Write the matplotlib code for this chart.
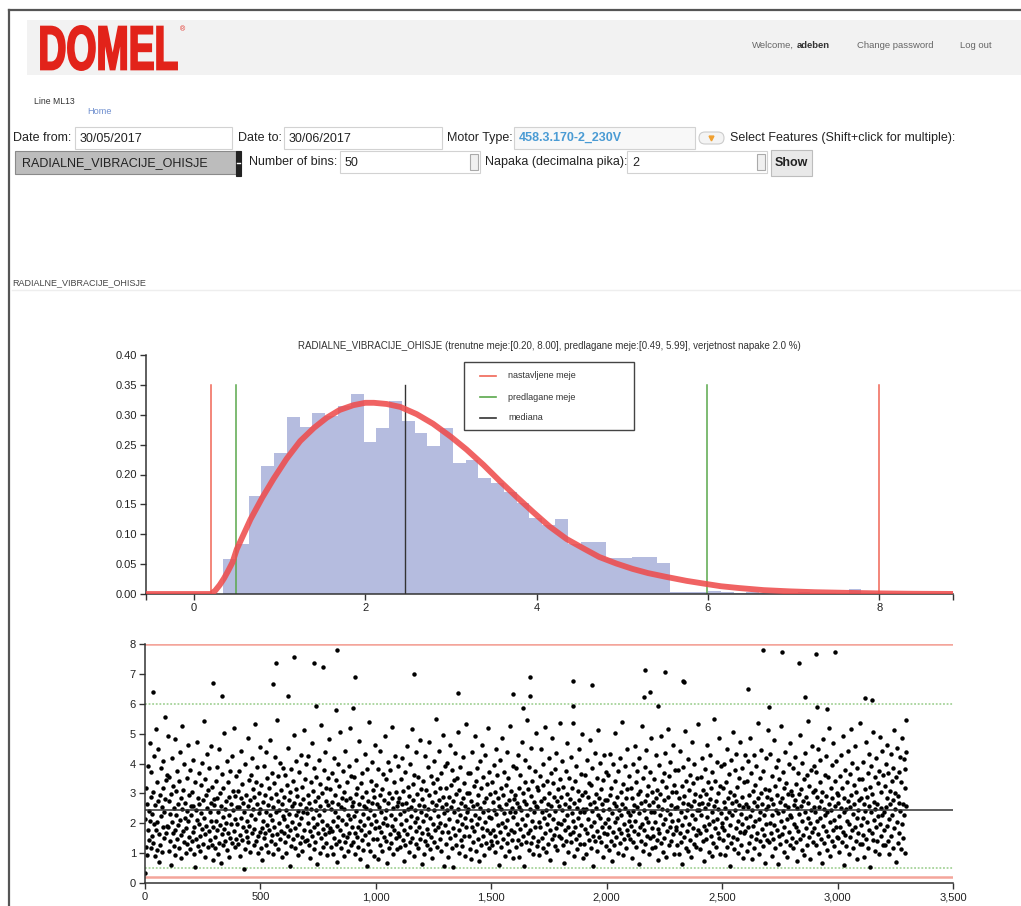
import matplotlib
matplotlib.use('Agg')
import matplotlib.pyplot as plt
import numpy as np
from matplotlib.patches import Rectangle, PathPatch, FancyBboxPatch
from matplotlib.textpath import TextPath
from matplotlib.font_manager import FontProperties
from matplotlib.transforms import Affine2D
from matplotlib.ticker import FuncFormatter

plt.rcParams['font.family'] = ['Liberation Sans', 'DejaVu Sans']

# ---- values ----
feature = 'RADIALNE_VIBRACIJE_OHISJE'
current_limits = [0.20, 8.00]
proposed_limits = [0.49, 5.99]
median_value = 2.46
error_prob = 2.0
date_from = '30/05/2017'
date_to = '30/06/2017'
motor_type = '458.3.170-2_230V'
n_bins = '50'
napaka = '2'

# histogram (density per bin), 50 bins
bin_start = 0.34
bin_width = 0.149
hist_density = [0.058, 0.083, 0.164, 0.214, 0.236, 0.296, 0.279, 0.303, 0.298, 0.315,
                0.334, 0.254, 0.278, 0.323, 0.290, 0.270, 0.247, 0.278, 0.220, 0.224,
                0.194, 0.186, 0.171, 0.152, 0.128, 0.116, 0.125, 0.083, 0.087, 0.087,
                0.061, 0.061, 0.062, 0.062, 0.052, 0.004, 0.003, 0.004, 0.005, 0.003,
                0.002, 0.003, 0.002, 0.002, 0.001, 0.003, 0.002, 0.001, 0.000, 0.009]

# fitted density curve (red)
curve_x = [-0.56, 0.20, 0.25, 0.30, 0.35, 0.40, 0.45, 0.50, 0.58, 0.66, 0.80, 0.93, 1.08,
           1.24, 1.40, 1.55, 1.70, 1.86, 2.00, 2.10, 2.25, 2.41, 2.60, 2.79, 3.00, 3.18,
           3.38, 3.57, 3.77, 3.96, 4.15, 4.35, 4.55, 4.73, 4.93, 5.12, 5.30, 5.50, 5.75,
           5.97, 6.15, 6.36, 6.65, 6.94, 7.25, 7.60, 8.00, 8.40, 8.86]
curve_y = [0.0, 0.0, 0.006, 0.015, 0.026, 0.039, 0.053, 0.075, 0.100, 0.125, 0.162, 0.193,
           0.226, 0.256, 0.278, 0.295, 0.308, 0.316, 0.320, 0.320, 0.318, 0.313, 0.301,
           0.285, 0.263, 0.242, 0.216, 0.189, 0.162, 0.137, 0.113, 0.092, 0.076, 0.062,
           0.051, 0.042, 0.035, 0.029, 0.022, 0.017, 0.013, 0.010, 0.0065, 0.0045, 0.003,
           0.002, 0.001, 0.0004, 0.0001]

# measured values (x100), every second sample of the series
sample_step = 2
vib_values = [
    32, 215, 318, 122, 266, 95, 178, 392, 241, 143, 208, 467, 289, 117, 371, 156, 231, 305, 134, 425, 198, 262, 89, 514, 176, 338, 111, 203, 447, 276, 163, 71, 293, 128, 386, 224, 254, 104, 188, 317, 409, 149, 236, 281, 557, 167, 345, 363, 192, 493,
    187, 274, 108, 356, 231, 142, 298, 61, 203, 419, 167, 326, 125, 251, 482, 179, 93, 307, 228, 374, 146, 263, 195, 118, 341, 212, 437, 159, 285, 84, 247, 526, 174, 312, 137, 398, 219, 269, 101, 183, 352, 241, 131, 461, 206, 294, 153, 378, 115, 258,
    226, 139, 303, 171, 412, 257, 96, 189, 338, 53, 243, 147, 472, 211, 286, 123, 367, 198, 264, 157, 106, 329, 234, 403, 181, 277, 132, 541, 218, 349, 164, 88, 296, 192, 431, 252, 119, 311, 173, 384, 239, 144, 267, 206, 458, 127, 322, 186, 78, 281,
    262, 154, 117, 343, 209, 388, 176, 283, 98, 237, 449, 135, 302, 194, 67, 257, 163, 364, 221, 126, 318, 182, 503, 248, 141, 273, 201, 409, 112, 337, 168, 289, 229, 86, 376, 152, 264, 197, 133, 426, 244, 309, 175, 519, 121, 291, 213, 357, 148, 253,
    196, 307, 129, 253, 374, 162, 91, 284, 219, 441, 144, 331, 186, 268, 47, 237, 113, 397, 174, 296, 208, 153, 486, 259, 136, 346, 192, 277, 104, 363, 227, 418, 169, 314, 247, 126, 287, 181, 532, 215, 142, 339, 264, 389, 157, 99, 302, 233, 171, 455,
    248, 118, 329, 183, 76, 271, 207, 393, 149, 293, 166, 437, 238, 127, 351, 194, 262, 105, 318, 177, 479, 226, 141, 283, 212, 368, 159, 97, 254, 336, 188, 421, 132, 299, 236, 164, 547, 273, 114, 357, 201, 243, 402, 146, 311, 173, 87, 266, 223, 384,
    169, 287, 214, 136, 362, 246, 101, 191, 327, 453, 158, 279, 231, 58, 304, 176, 382, 124, 257, 203, 343, 147, 268, 496, 183, 116, 314, 228, 407, 162, 291, 242, 93, 372, 197, 263, 133, 429, 217, 322, 154, 106, 281, 236, 511, 178, 347, 139, 252, 399,
    233, 143, 296, 201, 426, 128, 267, 174, 83, 338, 249, 157, 467, 219, 309, 113, 386, 186, 274, 137, 243, 356, 196, 64, 288, 167, 412, 226, 102, 333, 257, 149, 529, 209, 301, 181, 121, 377, 244, 163, 438, 276, 134, 318, 193, 94, 262, 352, 172, 482,
    184, 315, 122, 248, 367, 173, 272, 96, 206, 419, 151, 293, 237, 132, 346, 192, 71, 264, 221, 398, 142, 326, 178, 507, 254, 117, 283, 212, 375, 161, 89, 303, 247, 136, 442, 198, 277, 155, 337, 108, 229, 392, 169, 286, 519, 214, 126, 358, 258, 187,
    271, 137, 224, 354, 168, 98, 297, 241, 413, 153, 318, 189, 121, 263, 476, 207, 82, 336, 179, 287, 145, 369, 232, 111, 259, 193, 432, 159, 304, 252, 56, 383, 217, 131, 276, 171, 539, 243, 106, 342, 198, 268, 404, 148, 312, 226, 89, 289, 183, 461,
    209, 329, 146, 263, 82, 381, 187, 253, 128, 296, 443, 172, 236, 107, 314, 201, 364, 154, 278, 491, 219, 139, 347, 243, 66, 193, 406, 267, 118, 301, 163, 379, 228, 134, 284, 191, 522, 252, 97, 337, 176, 424, 214, 149, 306, 259, 113, 393, 167, 271,
    158, 286, 231, 119, 347, 196, 264, 418, 143, 308, 73, 242, 179, 373, 126, 269, 211, 458, 164, 321, 249, 104, 291, 186, 397, 137, 256, 223, 515, 152, 333, 277, 91, 362, 203, 246, 132, 437, 174, 298, 217, 116, 354, 261, 189, 479, 147, 313, 238, 62,
    281, 167, 342, 206, 97, 258, 141, 426, 229, 311, 182, 127, 387, 249, 163, 471, 294, 113, 216, 359, 154, 272, 83, 334, 197, 408, 244, 136, 303, 176, 549, 262, 121, 348, 224, 187, 441, 279, 146, 317, 201, 106, 368, 253, 172, 497, 288, 58, 234, 392,
    194, 263, 132, 318, 243, 401, 171, 87, 289, 214, 462, 149, 327, 256, 118, 378, 183, 274, 53, 236, 346, 161, 436, 297, 128, 207, 353, 248, 506, 176, 101, 312, 227, 389, 143, 268, 197, 124, 421, 283, 156, 336, 219, 91, 257, 532, 188, 301, 239, 367,
    247, 156, 301, 113, 367, 212, 276, 82, 189, 438, 258, 137, 324, 173, 492, 228, 107, 342, 264, 196, 384, 148, 293, 72, 217, 409, 252, 126, 317, 183, 463, 239, 158, 356, 271, 94, 203, 429, 286, 134, 331, 177, 518, 244, 116, 373, 222, 166, 298, 141,
    216, 339, 127, 272, 179, 396, 243, 103, 306, 158, 447, 231, 138, 363, 194, 286, 61, 257, 171, 413, 318, 119, 249, 202, 484, 147, 294, 233, 371, 92, 187, 327, 264, 133, 439, 212, 163, 353, 278, 108, 236, 527, 176, 309, 251, 144, 392, 221, 84, 282,
    172, 296, 238, 121, 384, 197, 267, 143, 427, 253, 88, 319, 182, 361, 129, 246, 472, 214, 302, 156, 58, 276, 337, 193, 411, 138, 263, 226, 544, 167, 314, 109, 387, 247, 178, 292, 135, 453, 209, 343, 153, 98, 271, 236, 376, 189, 503, 257, 124, 322,
    253, 139, 312, 204, 93, 357, 186, 276, 448, 152, 238, 327, 117, 399, 219, 286, 168, 521, 243, 104, 342, 197, 266, 131, 417, 229, 301, 76, 176, 368, 257, 146, 486, 213, 334, 162, 289, 123, 382, 241, 184, 436, 274, 112, 316, 201, 259, 157, 349, 537,
    198, 287, 151, 243, 408, 126, 323, 211, 67, 264, 178, 376, 142, 298, 226, 467, 189, 104, 352, 256, 163, 281, 421, 137, 233, 319, 208, 534, 172, 92, 269, 341, 186, 393, 148, 251, 114, 307, 219, 447, 161, 277, 236, 129, 364, 194, 293, 498, 83, 247,
    237, 129, 306, 181, 362, 248, 97, 413, 167, 289, 215, 144, 334, 263, 479, 192, 118, 327, 242, 386, 158, 57, 271, 204, 436, 139, 298, 252, 174, 353, 108, 229, 511, 283, 153, 402, 218, 313, 137, 264, 188, 87, 344, 246, 427, 166, 279, 201, 124, 373,
    164, 278, 213, 363, 112, 249, 187, 431, 296, 141, 318, 74, 233, 397, 172, 267, 126, 342, 204, 502, 258, 153, 289, 218, 102, 376, 182, 244, 418, 134, 306, 227, 169, 538, 264, 93, 331, 196, 147, 392, 251, 283, 118, 449, 176, 314, 237, 159, 357, 209,
    226, 147, 319, 192, 84, 283, 241, 398, 136, 261, 174, 457, 208, 337, 122, 376, 253, 163, 297, 63, 234, 418, 186, 309, 142, 268, 524, 197, 107, 351, 246, 179, 389, 274, 131, 218, 446, 293, 157, 326, 203, 96, 262, 371, 149, 484, 238, 116, 304, 183,
    271, 158, 236, 347, 119, 203, 429, 286, 144, 312, 181, 78, 259, 394, 167, 298, 227, 491, 133, 342, 249, 196, 103, 367, 277, 152, 436, 214, 321, 88, 243, 173, 517, 289, 126, 358, 231, 189, 404, 262, 139, 303, 207, 461, 164, 96, 328, 252, 378, 178,
    189, 303, 128, 254, 377, 211, 96, 283, 166, 442, 237, 138, 326, 193, 64, 268, 387, 154, 292, 222, 509, 117, 343, 246, 173, 416, 266, 107, 311, 198, 143, 361, 257, 86, 229, 473, 184, 334, 276, 131, 399, 214, 297, 161, 122, 352, 243, 531, 176, 264,
    243, 166, 291, 114, 356, 227, 268, 418, 139, 312, 192, 72, 251, 383, 178, 297, 146, 463, 221, 338, 263, 104, 198, 427, 282, 156, 317, 237, 89, 372, 206, 134, 548, 259, 184, 343, 274, 121, 406, 213, 168, 302, 247, 487, 151, 97, 326, 233, 391, 187,
    202, 318, 143, 271, 398, 176, 251, 94, 337, 218, 121, 449, 286, 162, 364, 236, 57, 303, 194, 413, 134, 267, 228, 507, 153, 294, 113, 377, 246, 183, 432, 273, 147, 322, 209, 101, 352, 262, 171, 471, 232, 128, 289, 196, 384, 84, 256, 339, 168, 427,
    174, 263, 216, 106, 342, 187, 407, 253, 134, 296, 223, 486, 157, 367, 81, 246, 309, 191, 428, 272, 118, 328, 206, 147, 392, 259, 168, 534, 284, 97, 213, 351, 236, 139, 446, 302, 182, 266, 124, 374, 228, 161, 313, 68, 248, 417, 199, 287, 143, 512,
    258, 137, 311, 202, 433, 169, 281, 92, 227, 358, 148, 266, 477, 193, 324, 118, 243, 389, 177, 296, 62, 234, 412, 156, 347, 271, 129, 208, 526, 286, 164, 373, 241, 103, 319, 187, 439, 262, 141, 336, 214, 88, 298, 253, 397, 172, 467, 229, 126, 307,
    221, 294, 152, 384, 117, 262, 198, 421, 279, 136, 333, 187, 74, 251, 368, 173, 297, 232, 496, 146, 314, 257, 109, 403, 206, 276, 161, 347, 93, 239, 436, 183, 289, 127, 362, 218, 541, 268, 154, 326, 201, 82, 379, 246, 171, 458, 304, 138, 253, 392,
    183, 312, 239, 128, 371, 206, 287, 448, 163, 254, 99, 339, 217, 412, 146, 276, 67, 303, 192, 482, 248, 133, 361, 227, 174, 426, 291, 112, 237, 354, 158, 519, 266, 203, 89, 317, 246, 394, 141, 283, 176, 468, 212, 123, 343, 259, 186, 407, 301, 154,
    267, 149, 296, 223, 104, 358, 186, 429, 252, 137, 318, 172, 491, 238, 61, 284, 379, 161, 247, 123, 337, 208, 443, 274, 97, 199, 366, 256, 153, 514, 293, 178, 401, 231, 116, 329, 264, 189, 457, 142, 306, 217, 82, 384, 243, 169, 347, 279, 132, 536,
    194, 283, 131, 347, 219, 406, 162, 264, 87, 313, 241, 472, 146, 288, 203, 369, 118, 257, 178, 431, 321, 54, 236, 392, 168, 297, 504, 143, 271, 212, 356, 107, 249, 186, 418, 263, 139, 334, 224, 96, 376, 198, 489, 252, 157, 306, 227, 441, 126, 361,
    237, 176, 324, 128, 397, 253, 191, 462, 286, 142, 367, 214, 98, 308, 264, 432, 158, 343, 226, 117, 386, 279, 512, 183, 301, 247, 71, 356, 204, 452, 134, 292, 373, 168, 268, 421, 241, 113, 338, 197, 487, 263, 152, 414, 229, 318, 102, 381, 257, 437,
]

# isolated high readings (sample index, value)
outlier_idx = [36, 296, 332, 553, 566, 621, 647, 734, 741, 773, 833, 826, 911, 903, 1167,
               1355, 1596, 1668, 1669, 1636, 1852, 1853, 1938, 2166, 2162, 2188, 2254, 2330,
               2336, 2223, 2610, 2679, 2702, 2759, 2834, 2857, 2907, 2990, 2913, 2954, 3120,
               3150, 3296]
outlier_val = [6.40, 6.71, 6.25, 6.65, 7.35, 6.25, 7.55, 7.37, 5.94, 7.23, 7.79, 5.80, 6.90,
               5.86, 6.99, 6.37, 6.32, 6.88, 6.25, 5.87, 6.75, 5.92, 6.62, 7.12, 6.23, 6.40,
               7.07, 6.77, 6.72, 5.93, 6.48, 7.79, 5.90, 7.74, 7.37, 6.21, 7.66, 7.74, 5.88,
               5.81, 6.18, 6.12, 5.45]

RED = '#f06656'
RED_LIGHT = '#f4a59b'
GREEN = '#5aa84c'
GREEN_LIGHT = '#a6d39a'
DARK = '#333333'

W, H = 1021, 906
fig = plt.figure(figsize=(W / 100, H / 100), dpi=100)
fig.patch.set_facecolor('white')

# page chrome in pixel coordinates (y down)
bg = fig.add_axes([0, 0, 1, 1])
bg.set_xlim(0, W)
bg.set_ylim(H, 0)
bg.axis('off')


def box(x0, y0, x1, y1, fc='white', ec='#d2d2d2', lw=0.8, z=1):
    bg.add_patch(Rectangle((x0, y0), x1 - x0, y1 - y0, fc=fc, ec=ec, lw=lw, zorder=z))


def txt(x, y, s, size=9, color='#222222', weight='normal', ha='left'):
    bg.text(x, y, s, fontsize=size, color=color, fontweight=weight, ha=ha, va='center', zorder=5)


bg.plot([9, 9], [10, H], color='#555555', lw=1.6)
bg.plot([9, W], [10, 10], color='#555555', lw=1.6)
box(27, 20, W, 75, fc='#f2f2f2', ec='none')

# logo
tp = TextPath((0, 0), 'DOMEL', size=50, prop=FontProperties(family='Liberation Sans', weight='bold'))
ext = tp.get_extents()
tr = Affine2D().translate(-ext.x0, -ext.y0).scale(136 / ext.width, -44 / ext.height).translate(41, 70)
bg.add_patch(PathPatch(tr.transform_path(tp), fc='#e2231a', ec='#e2231a', lw=1.4, zorder=3))
txt(180, 30, '®', size=5, color='#e2231a')

txt(752, 45, 'Welcome,', size=6.8, color='#666666')
txt(797, 45, 'adeben', size=6.8, color='#333333', weight='bold')
txt(857, 45, 'Change password', size=6.8, color='#666666')
txt(960, 45, 'Log out', size=6.8, color='#666666')
txt(34, 101, 'Line ML13', size=6.2, color='#333333')
txt(87, 111, 'Home', size=6.6, color='#6f8fcf')

# form row 1
txt(13, 138, 'Date from:')
box(75, 127, 232, 149)
txt(80, 139, date_from)
txt(238, 138, 'Date to:')
box(284, 127, 442, 149)
txt(289, 139, date_to)
txt(447, 138, 'Motor Type:')
box(514, 127, 695, 149, fc='#f8f8f8')
txt(519, 138, motor_type, color='#4a9bd4', weight='bold')
bg.add_patch(FancyBboxPatch((699, 132), 25, 12, boxstyle='round,pad=0,rounding_size=6',
                            fc='#f4f4f4', ec='#cccccc', lw=0.8, zorder=2))
bg.plot([711], [137.5], marker='v', ms=3.5, color='#f0a030', zorder=4)
txt(730, 138, 'Select Features (Shift+click for multiple):')

# form row 2
box(15, 151, 236, 174, fc='#bcbcbc', ec='#8a8a8a')
txt(22, 163, feature)
box(236, 151, 241, 176, fc='#222222', ec='#222222')
bg.plot([237, 240], [163, 163], color='white', lw=1, zorder=3)
txt(249, 162, 'Number of bins:')
box(340, 151, 480, 173)
txt(345, 163, n_bins)
box(470, 154, 478, 170, fc='#f0f0f0', ec='#aaaaaa')
txt(485, 162, 'Napaka (decimalna pika):')
box(627, 151, 767, 173)
txt(632, 163, napaka)
box(757, 154, 765, 170, fc='#f0f0f0', ec='#aaaaaa')
box(771, 150, 812, 176, fc='#e9e9e9', ec='#bdbdbd')
txt(791.5, 163, 'Show', weight='bold', ha='center')

txt(12, 283, feature, size=6.5, color='#444444')
bg.plot([12, W], [290, 290], color='#eeeeee', lw=1)

# ---- histogram ----
title = (f'{feature} (trenutne meje:[{current_limits[0]:.2f}, {current_limits[1]:.2f}], '
         f'predlagane meje:[{proposed_limits[0]:.2f}, {proposed_limits[1]:.2f}], '
         f'verjetnost napake {error_prob:.1f} %)')

ax = fig.add_axes([146 / W, 1 - 594 / H, 807 / W, 239 / H])
ax.set_facecolor('none')
edges = bin_start + bin_width * np.arange(len(hist_density))
ax.bar(edges, hist_density, width=bin_width, align='edge', color='#b5bcdf', lw=0, zorder=1)
for v in current_limits:
    ax.plot([v, v], [0, 0.35], color=RED, lw=1.1, zorder=2)
for v in proposed_limits:
    ax.plot([v, v], [0, 0.35], color=GREEN, lw=1.1, zorder=2)
ax.plot([median_value, median_value], [0, 0.35], color=DARK, lw=1.0, zorder=2)
ax.plot(curve_x, curve_y, color='#ee4d4d', lw=4.2, alpha=0.88, solid_capstyle='round', zorder=3)
ax.set_xlim(-0.56, 8.86)
ax.set_ylim(0, 0.40)
ax.set_xticks([0, 2, 4, 6, 8])
ax.set_xticks([-0.56, 8.86], minor=True)
ax.set_yticks(np.arange(0, 0.401, 0.05))
ax.yaxis.set_major_formatter(FuncFormatter(lambda v, p: f'{v:.2f}'))

# ---- scatter ----
ax2 = fig.add_axes([145 / W, 1 - 883 / H, 808 / W, 239 / H])
ax2.set_facecolor('none')
vals = np.array(vib_values) / 100.0
idx = np.arange(len(vals)) * sample_step
ax2.plot(idx, vals, 'o', color='black', ms=3.2, mew=0, zorder=2)
ax2.plot(outlier_idx, outlier_val, 'o', color='black', ms=3.2, mew=0, zorder=2)
for v in current_limits:
    ax2.axhline(v, color=RED_LIGHT, lw=1.8, zorder=1)
for v in proposed_limits:
    ax2.axhline(v, color=GREEN_LIGHT, lw=1.3, ls=(0, (1, 1)), zorder=1)
ax2.axhline(median_value, color=DARK, lw=1.1, zorder=3)
ax2.set_xlim(0, 3500)
ax2.set_ylim(0, 8)
ax2.set_xticks(np.arange(0, 3501, 500))
ax2.set_yticks(np.arange(0, 9, 1))
ax2.xaxis.set_major_formatter(FuncFormatter(lambda v, p: f'{int(v):,}'))

for a in (ax, ax2):
    for s in ('top', 'right'):
        a.spines[s].set_visible(False)
    for s in ('left', 'bottom'):
        a.spines[s].set_color(DARK)
        a.spines[s].set_linewidth(1.1)
    a.tick_params(which='both', direction='out', length=4.5, width=1.0, color=DARK,
                  labelsize=8, labelcolor='#222222', pad=2)

# overlay: title and legend
fg = fig.add_axes([0, 0, 1, 1], zorder=10)
fg.set_xlim(0, W)
fg.set_ylim(H, 0)
fg.axis('off')
fg.text(549.5, 346, title, fontsize=7.0, color='#333333', ha='center', va='center')
fg.add_patch(Rectangle((464, 362), 170, 68, fc='white', ec='#444444', lw=1.0))
legend_items = [('nastavljene meje', RED), ('predlagane meje', GREEN), ('mediana', DARK)]
for i, (lab, col) in enumerate(legend_items):
    yy = 376 + 21 * i
    fg.plot([480, 496], [yy, yy], color=col, lw=1.2)
    fg.text(508, yy, lab, fontsize=6.5, color='#333333', va='center')

fig.savefig('out.png', dpi=100)
